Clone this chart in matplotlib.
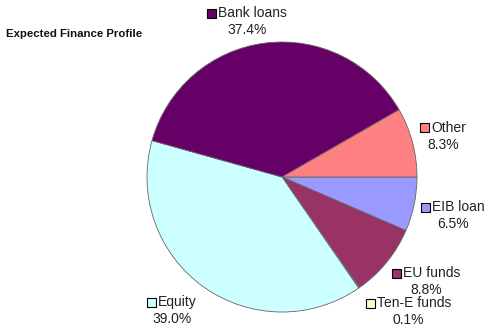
import matplotlib.pyplot as plt
from matplotlib.patches import Rectangle

plt.rcParams['font.family'] = ['Liberation Sans', 'DejaVu Sans']

# slices in clockwise order starting at 3 o'clock
labels = ['EIB loan', 'EU funds', 'Ten-E funds', 'Equity', 'Bank loans', 'Other']
shares = [6.5, 8.8, 0.1, 39.0, 37.4, 8.3]
colors = ['#9999FF', '#993366', '#FFFFCC', '#CCFFFF', '#660066', '#FF8080']

# label anchor (left edge of the key square, centre y), pixel coords from top
label_pos = {
    'EIB loan': (421, 207),
    'EU funds': (392, 273),
    'Ten-E funds': (366, 303),
    'Equity': (147, 302),
    'Bank loans': (207, 13),
    'Other': (420, 128),
}

W, H = 489, 326

fig = plt.figure(figsize=(W / 100, H / 100), dpi=100)
ax = fig.add_axes([0, 0, 1, 1])

ax.pie(shares, colors=colors, startangle=0, counterclock=False,
       center=(282, H - 177), radius=135,
       wedgeprops=dict(edgecolor='#666666', linewidth=0.6))

ax.set_xlim(0, W)
ax.set_ylim(0, H)
ax.set_aspect('equal')
ax.axis('off')

ax.text(6, H - 34, 'Expected Finance Profile', fontsize=8.2,
        fontweight='bold', va='center', ha='left', color='#111111')

for name, share, col in zip(labels, shares, colors):
    x, y = label_pos[name]
    y = H - y
    ax.add_patch(Rectangle((x, y - 4.5), 9, 9, facecolor=col,
                           edgecolor='black', linewidth=0.8))
    t = ax.text(x + 11, y, name, fontsize=10, va='center', ha='left',
                color='#222222')
    # percentage centred under the label (key + text)
    fig.canvas.draw()
    bb = t.get_window_extent()
    mid = (x + bb.x1) / 2
    ax.text(mid, y - 17, f'{share:.1f}%', fontsize=10, va='center',
            ha='center', color='#222222')

fig.savefig('out.png', dpi=100)
